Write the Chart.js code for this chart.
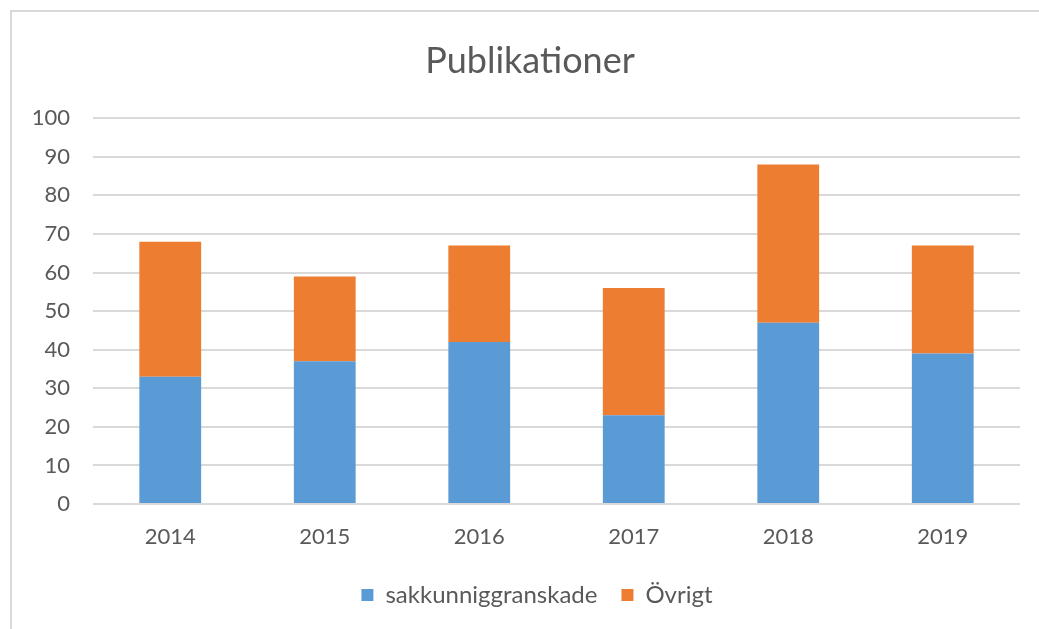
<!DOCTYPE html>
<html>
<head>
<meta charset="utf-8">
<script src="https://cdn.jsdelivr.net/npm/chart.js@4"></script>
<style>
    body { margin: 0; background: #fff; }
    #wrap {
        position: absolute;
        left: 10px;
        top: 10px;
        width: 1027px;
        height: 617px;
        border-left: 2px solid #d9d9d9;
        border-top: 2px solid #d9d9d9;
    }
</style>
</head>
<body>
<div id="wrap"><canvas id="chart" width="1027" height="617"></canvas></div>
<script>
const years = ['2014', '2015', '2016', '2017', '2018', '2019'];
const peerReviewed = [33, 37, 42, 23, 47, 39];
const other = [35, 22, 25, 33, 41, 28];
const yTicks = [0, 10, 20, 30, 40, 50, 60, 70, 80, 90, 100];

const textColor = '#595959';
const fontFamily = 'Lato, "Open Sans", sans-serif';

// nudge legend and title a bit right, like in the original Excel chart
const blockShift = {
    id: 'blockShift',
    afterLayout(chart) {
        chart.legend.left += 21;
        chart.legend.right += 21;
        chart.titleBlock.left += 14;
        chart.titleBlock.right += 14;
    }
};

new Chart(document.getElementById('chart').getContext('2d'), {
    type: 'bar',
    data: {
        labels: years,
        datasets: [
            {
                label: 'sakkunniggranskade',
                data: peerReviewed,
                backgroundColor: '#5b9bd5'
            },
            {
                label: 'Övrigt',
                data: other,
                backgroundColor: '#ed7d31'
            }
        ]
    },
    options: {
        responsive: false,
        animation: false,
        categoryPercentage: 1,
        barPercentage: 0.4,
        layout: { padding: { left: 0, right: 19, top: 0, bottom: 12 } },
        plugins: {
            title: {
                display: true,
                text: 'Publikationer',
                color: textColor,
                font: { family: fontFamily, size: 36, weight: 'normal' },
                padding: { top: 28, bottom: 35 }
            },
            legend: {
                position: 'bottom',
                labels: {
                    color: textColor,
                    font: { family: fontFamily, size: 24 },
                    boxWidth: 12,
                    boxHeight: 12,
                    padding: 24
                }
            },
            tooltip: { enabled: false }
        },
        scales: {
            x: {
                stacked: true,
                grid: { display: false },
                border: { display: false },
                ticks: {
                    color: textColor,
                    font: { family: fontFamily, size: 22 },
                    padding: 12
                },
                afterFit: scale => { scale.height = 55; }
            },
            y: {
                stacked: true,
                min: 0,
                max: 100,
                afterBuildTicks: scale => {
                    scale.ticks = yTicks.map(v => ({ value: v }));
                },
                grid: {
                    color: '#d9d9d9',
                    lineWidth: 2,
                    drawTicks: false
                },
                border: { display: false },
                ticks: {
                    color: textColor,
                    font: { family: fontFamily, size: 22 },
                    padding: 23
                },
                afterFit: scale => { scale.width = 81; }
            }
        }
    },
    plugins: [blockShift]
});
</script>
</body>
</html>
